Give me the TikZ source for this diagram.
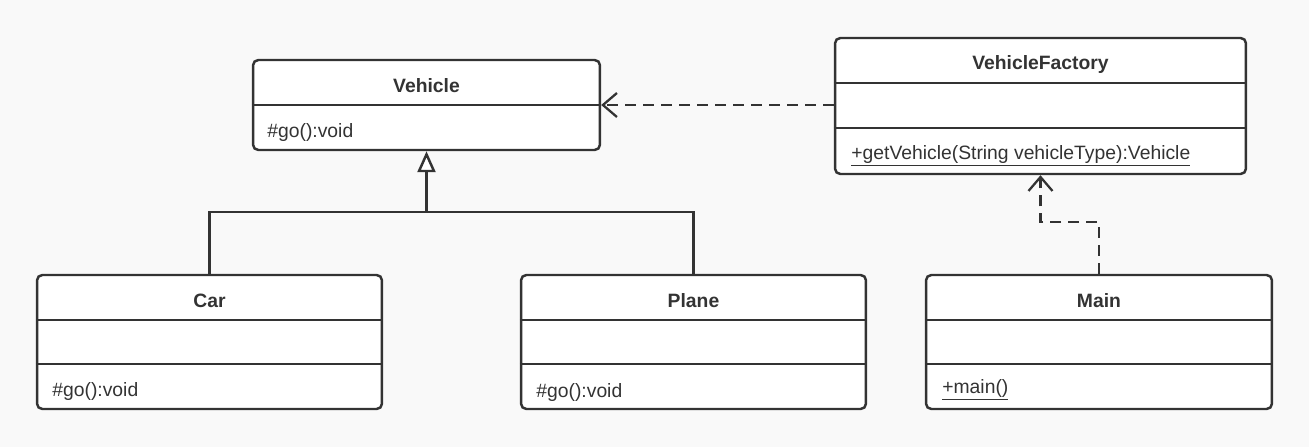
\documentclass[tikz,border=0pt]{standalone}
\usepackage{fontspec}
\setmainfont{Liberation Sans}
\usetikzlibrary{arrows.meta,positioning,calc}
\definecolor{umlline}{HTML}{333333}
\definecolor{umlbg}{HTML}{F9F9F9}

\begin{document}
\begin{tikzpicture}[x=0.02cm, y=-0.02cm,
	classbox/.style={draw=umlline, line width=1.4pt, fill=white, rounded corners=3pt, inner sep=0pt},
	title/.style={font=\bfseries\fontsize{11}{13}\selectfont, text=umlline},
	member/.style={font=\fontsize{11}{13}\selectfont, text=umlline, anchor=west, inner sep=0pt},
	sep/.style={draw=umlline, line width=1.4pt},
	inherit/.style={draw=umlline, line width=1.4pt, -{Triangle[open, length=0.42cm, width=0.36cm, fill=white]}},
	depend/.style={draw=umlline, line width=1.3pt, dash pattern=on 0.22cm off 0.14cm, -{Straight Barb[length=0.28cm, width=0.48cm]}}]
			% Background and page size
			\fill[umlbg] (0,0) rectangle (1309,447);
			\useasboundingbox (0,0) rectangle (1309,447);
			
			% Vehicle
			\node[classbox, minimum width=6.94cm, minimum height=1.8cm] (vehicle) at (426.5,105) {};
			\draw[sep] (vehicle.west) -- (vehicle.east);
			\node[title] at (426.5,86) {Vehicle};
			\node[member] at (267,132) {\#go():void};
			
			% VehicleFactory
			\node[classbox, minimum width=8.22cm, minimum height=2.72cm] (factory) at (1040.5,106) {};
			\draw[sep] (factory.west |- 0,83) -- (factory.east |- 0,83);
			\draw[sep] (factory.west |- 0,128) -- (factory.east |- 0,128);
			\node[title] at (1040.5,64) {VehicleFactory};
			\node[member] at (851,156) {\underline{+getVehicle(String vehicleType):Vehicle}};
			
			% Car
			\node[classbox, minimum width=6.9cm, minimum height=2.68cm] (car) at (209.5,342) {};
			\draw[sep] (car.west |- 0,320) -- (car.east |- 0,320);
			\draw[sep] (car.west |- 0,364) -- (car.east |- 0,364);
			\node[title] at (209.5,301) {Car};
			\node[member] at (52,391) {\#go():void};
			
			% Plane
			\node[classbox, minimum width=6.9cm, minimum height=2.68cm] (plane) at (693.5,342) {};
			\draw[sep] (plane.west |- 0,320) -- (plane.east |- 0,320);
			\draw[sep] (plane.west |- 0,364) -- (plane.east |- 0,364);
			\node[title] at (693.5,301) {Plane};
			\node[member] at (536,392) {\#go():void};
			
			% Main
			\node[classbox, minimum width=6.92cm, minimum height=2.68cm] (main) at (1099,342) {};
			\draw[sep] (main.west |- 0,320) -- (main.east |- 0,320);
			\draw[sep] (main.west |- 0,364) -- (main.east |- 0,364);
			\node[title] at (1099,301) {Main};
			\node[member] at (942,390) {\underline{+main()}};
			
			% Generalization: Car and Plane extend Vehicle
			\coordinate (join) at (vehicle.south |- 0,212);
			\draw[sep] (car.north) |- (join) -| (plane.north);
			\draw[inherit] (join) -- (vehicle.south);
			
			% Dependencies
			\draw[depend] (vehicle.east -| factory.west) -- (vehicle.east);
			\draw[depend] (main.north) -- ++(0,-52) -| (factory.south);
		\end{tikzpicture}
\end{document}
